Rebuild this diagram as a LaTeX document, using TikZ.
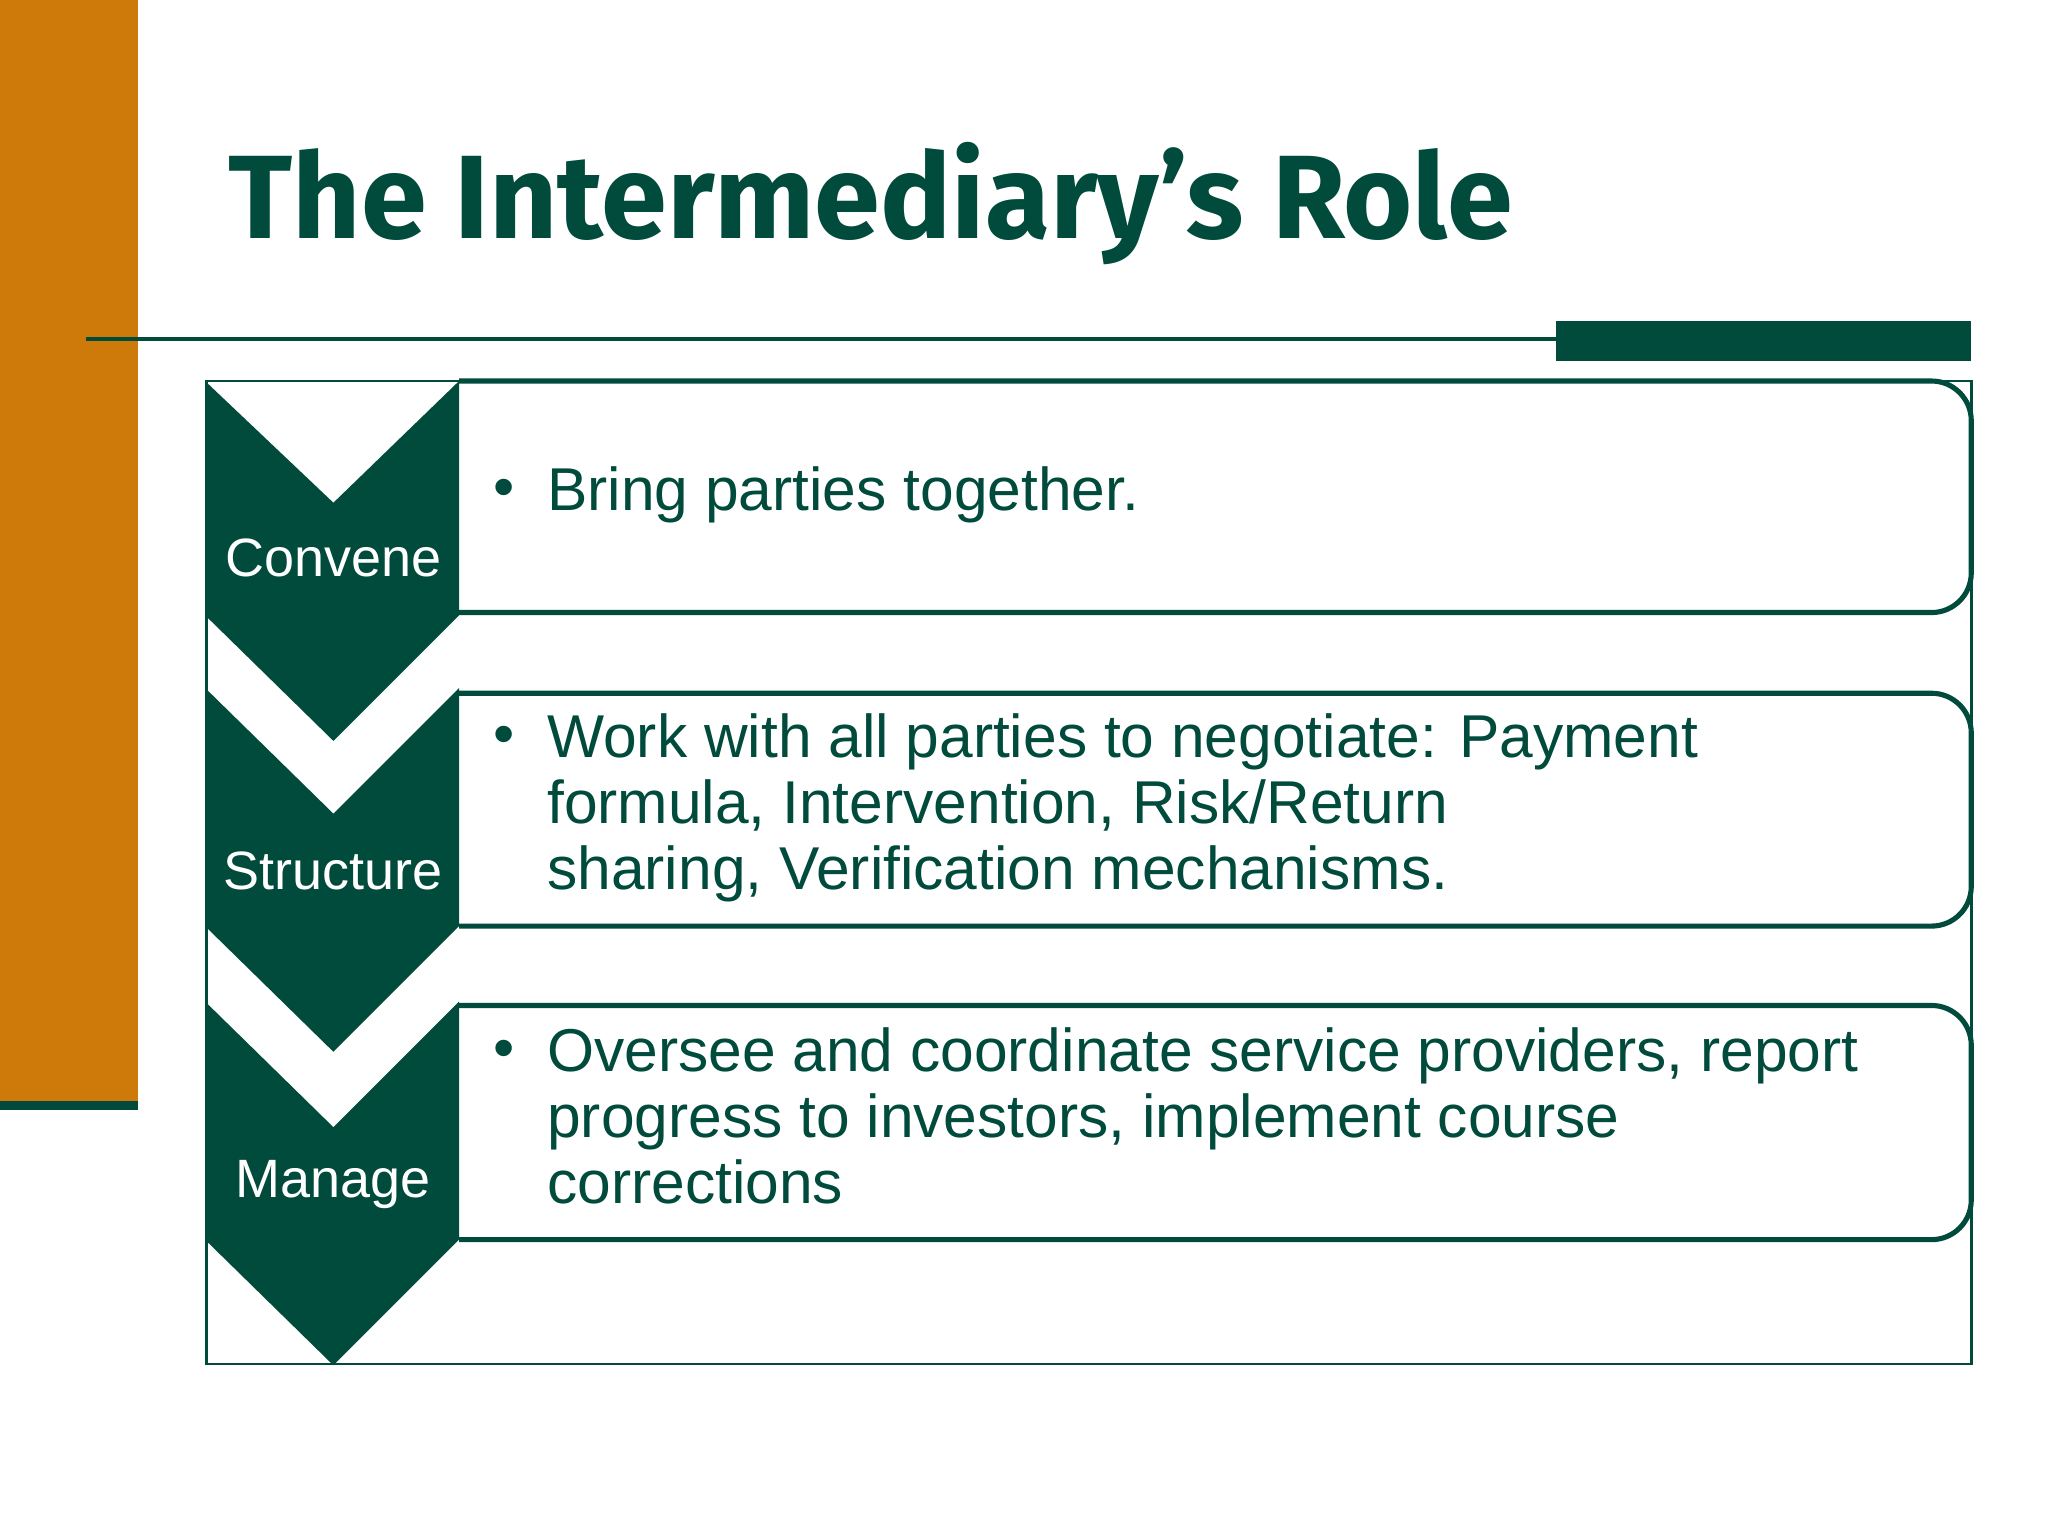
\documentclass[tikz,border=0pt]{standalone}
\usepackage{fontspec}
\setmainfont{Liberation Sans}
\newfontfamily\titlefont{Fira Sans}
\definecolor{dg}{RGB}{0,75,60}
\definecolor{org}{RGB}{206,122,10}
\begin{document}
\begin{tikzpicture}[x=0.01cm,y=-0.01cm,
  chev/.style={fill=dg,draw=none},
  box/.style={draw=dg,line width=1.1pt,fill=white,rounded corners=0.3cm},
  lbl/.style={text=white,font=\fontsize{11.6pt}{14pt}\selectfont},
  txt/.style={text=dg,anchor=north west,align=left,font=\fontsize{13pt}{14.2pt}\selectfont,inner sep=0pt}]
\useasboundingbox (0,0) rectangle (1548,1161);
\fill[white] (0,0) rectangle (1548,1161);
\fill[org] (0,0) rectangle (104,834);
\fill[dg] (0,832) rectangle (104,839);
\node[anchor=base west,text=dg,inner sep=0pt,font=\titlefont\bfseries\fontsize{25.5pt}{30pt}\selectfont] (title) at (172,180) {The Intermediary’s Role};
\draw[dg,line width=0.8pt] (65,256) -- (1180,256);
\fill[dg] (1176,243) rectangle (1490,273);
\draw[dg,line width=0.6pt] (156,288) rectangle (1490,1031);
% boxes
\draw[box] (347,288) -- (1490,288) -- (1490,463) -- (347,463);
\draw[box] (347,524) -- (1490,524) -- (1490,700) -- (347,700);
\draw[box] (347,760) -- (1490,760) -- (1490,937) -- (347,937);
% chevrons
\fill[chev] (155,288) -- (252,380) -- (347,288) -- (347,465) -- (252,560) -- (155,465) -- cycle;
\fill[chev] (155,520) -- (252,615) -- (347,520) -- (347,700) -- (252,795) -- (155,700) -- cycle;
\fill[chev] (155,757) -- (252,852) -- (347,757) -- (347,937) -- (252,1032) -- (155,937) -- cycle;
\node[lbl] (c1) at (252,422) {Convene};
\node[lbl] (c2) at (252,658) {Structure};
\node[lbl] (c3) at (252,895) {Manage};
\node[text=dg,font=\fontsize{13pt}{14pt}\selectfont] (b1) at (381,373) {•};
\node[txt] (t1) at (413,352) {Bring parties together.};
\node[text=dg,font=\fontsize{13pt}{14pt}\selectfont] (b2) at (381,560) {•};
\node[txt] (t2) at (413,539) {Work with all parties to negotiate: Payment\\formula, Intervention, Risk/Return\\sharing, Verification mechanisms.};
\node[text=dg,font=\fontsize{13pt}{14pt}\selectfont] (b3) at (381,797) {•};
\node[txt] (t3) at (413,776) {Oversee and coordinate service providers, report\\progress to investors, implement course\\corrections};
\end{tikzpicture}
\end{document}
